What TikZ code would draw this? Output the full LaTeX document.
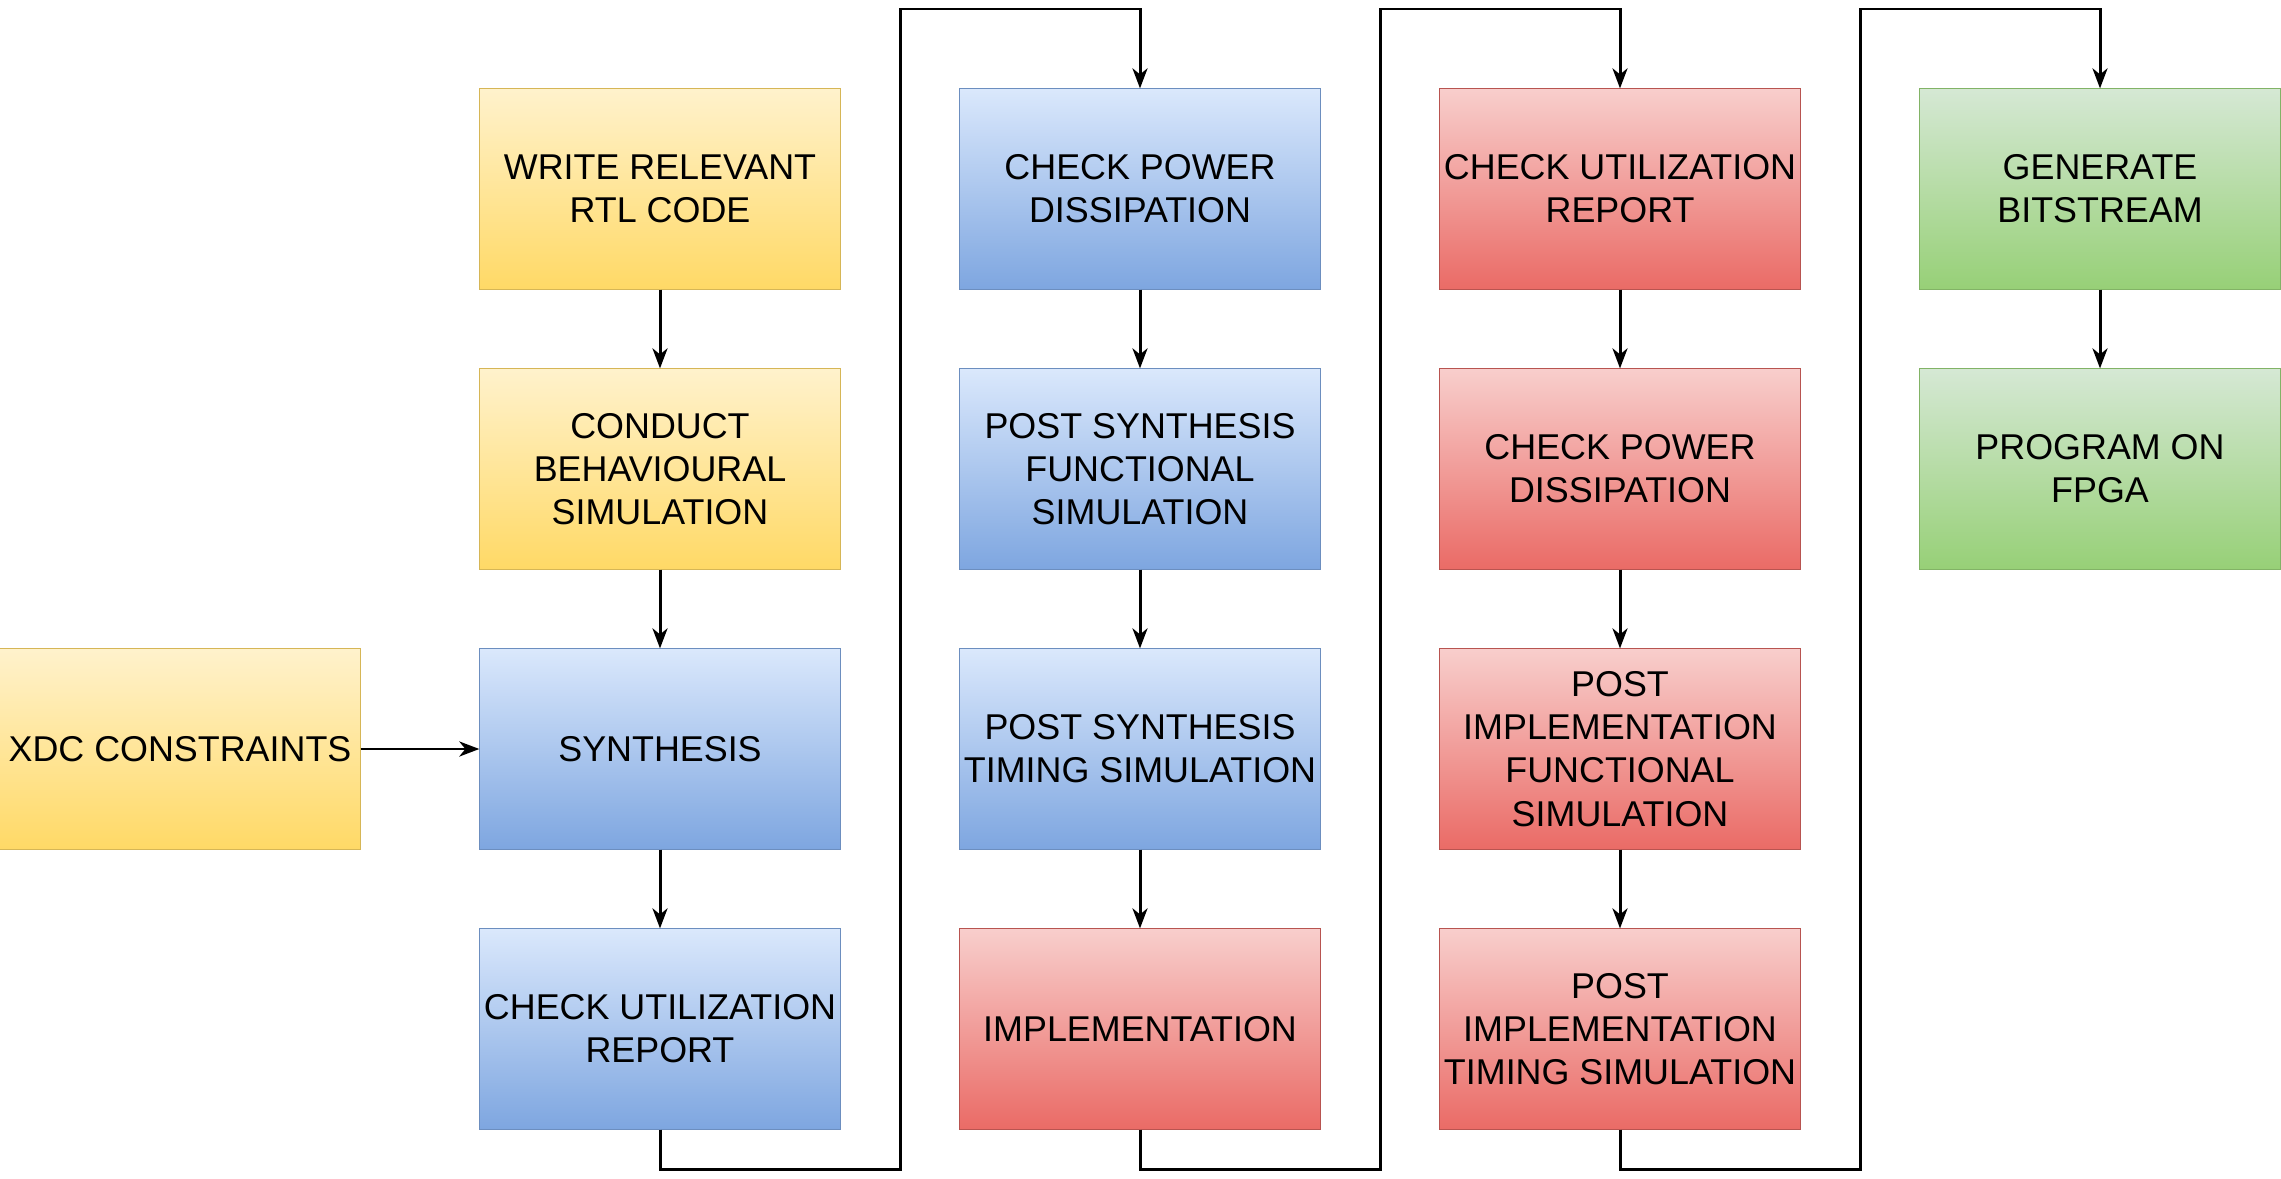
\documentclass[tikz,border=0pt]{standalone}
\usepackage{fontspec}
\setmainfont{Liberation Sans}
\usetikzlibrary{arrows.meta}
\definecolor{yelT}{HTML}{FFF2CC}
\definecolor{yelB}{HTML}{FFD966}
\definecolor{yelD}{HTML}{D6B656}
\definecolor{bluT}{HTML}{DAE8FC}
\definecolor{bluB}{HTML}{7EA6E0}
\definecolor{bluD}{HTML}{6C8EBF}
\definecolor{redT}{HTML}{F8CECC}
\definecolor{redB}{HTML}{EA6B66}
\definecolor{redD}{HTML}{B85450}
\definecolor{grnT}{HTML}{D5E8D4}
\definecolor{grnB}{HTML}{97D077}
\definecolor{grnD}{HTML}{82B366}
\tikzset{
  box/.style={rectangle, minimum width=3.6cm, minimum height=2cm, inner sep=0pt,
    align=center, font=\fontsize{10.2}{12.3}\selectfont, line width=0.3pt},
  yel/.style={box, draw=yelD, top color=yelT, bottom color=yelB},
  blu/.style={box, draw=bluD, top color=bluT, bottom color=bluB},
  red/.style={box, draw=redD, top color=redT, bottom color=redB},
  grn/.style={box, draw=grnD, top color=grnT, bottom color=grnB},
  conn/.style={line width=0.85pt, -{Stealth[length=2mm,width=1.5mm,inset=0.6mm]}},
}
\begin{document}
\begin{tikzpicture}[x=0.01cm,y=-0.01cm]
\useasboundingbox (0,0) rectangle (2281,1179);
% column 1
\node[yel] (b11) at (660,189) {WRITE RELEVANT\\RTL CODE};
\node[yel] (b12) at (660,469) {CONDUCT\\BEHAVIOURAL\\SIMULATION};
\node[blu] (b13) at (660,749) {SYNTHESIS};
\node[blu] (b14) at (660,1029) {CHECK UTILIZATION\\REPORT};
\node[yel] (xdc) at (180,749) {XDC CONSTRAINTS};
% column 2
\node[blu] (b21) at (1140,189) {CHECK POWER\\DISSIPATION};
\node[blu] (b22) at (1140,469) {POST SYNTHESIS\\FUNCTIONAL\\SIMULATION};
\node[blu] (b23) at (1140,749) {POST SYNTHESIS\\TIMING SIMULATION};
\node[red] (b24) at (1140,1029) {IMPLEMENTATION};
% column 3
\node[red] (b31) at (1620,189) {CHECK UTILIZATION\\REPORT};
\node[red] (b32) at (1620,469) {CHECK POWER\\DISSIPATION};
\node[red] (b33) at (1620,749) {POST\\IMPLEMENTATION\\FUNCTIONAL\\SIMULATION};
\node[red] (b34) at (1620,1029) {POST\\IMPLEMENTATION\\TIMING SIMULATION};
% column 4
\node[grn] (b41) at (2100,189) {GENERATE\\BITSTREAM};
\node[grn] (b42) at (2100,469) {PROGRAM ON\\FPGA};
% helper coordinates
\coordinate (bot) at (0,1169);
\coordinate (top) at (0,9);
\coordinate (g1) at (900,0);
\coordinate (g2) at (1380,0);
\coordinate (g3) at (1860,0);
% vertical arrows
\draw[conn] (b11) -- (b12);
\draw[conn] (b12) -- (b13);
\draw[conn] (b13) -- (b14);
\draw[conn] (xdc) -- (b13);
\draw[conn] (b21) -- (b22);
\draw[conn] (b22) -- (b23);
\draw[conn] (b23) -- (b24);
\draw[conn] (b31) -- (b32);
\draw[conn] (b32) -- (b33);
\draw[conn] (b33) -- (b34);
\draw[conn] (b41) -- (b42);
% loop connectors
\draw[conn] (b14.south) -- (b14.south |- bot) -| (g1 |- top) -| (b21.north);
\draw[conn] (b24.south) -- (b24.south |- bot) -| (g2 |- top) -| (b31.north);
\draw[conn] (b34.south) -- (b34.south |- bot) -| (g3 |- top) -| (b41.north);
\end{tikzpicture}
\end{document}
